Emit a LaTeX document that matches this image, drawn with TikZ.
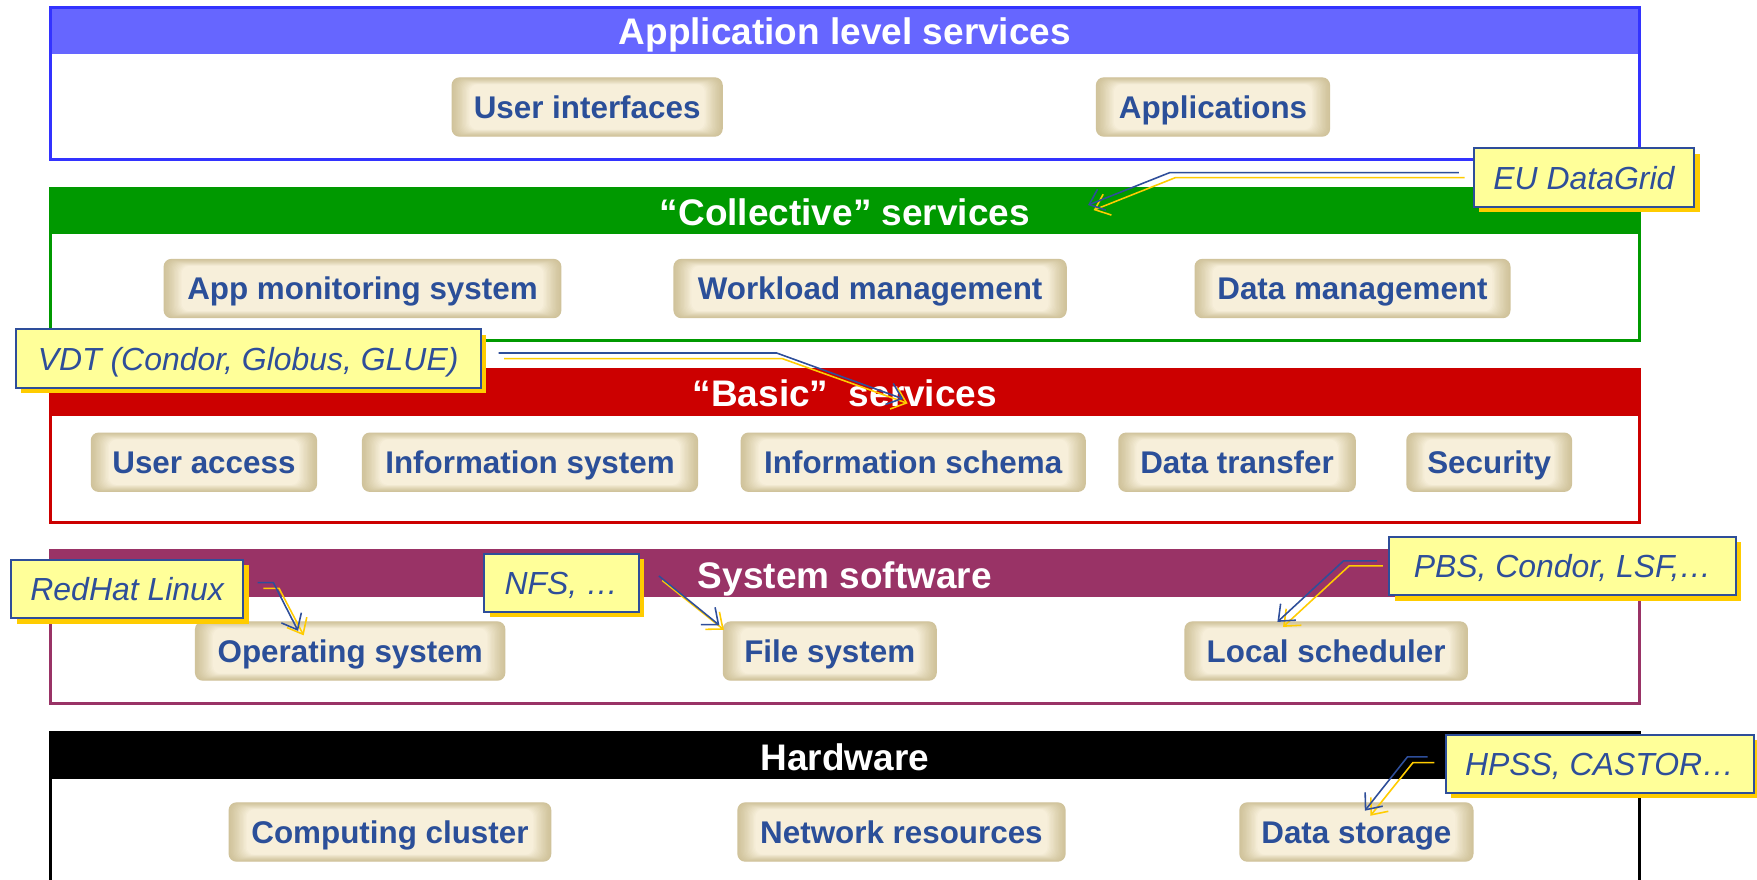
\documentclass[tikz,border=0pt]{standalone}
\usepackage{fontspec}
\setmainfont{Liberation Sans}
\usetikzlibrary{arrows.meta,shadows}
\definecolor{hdrblue}{HTML}{6666FF}
\definecolor{frameblue}{HTML}{3333FF}
\definecolor{layergreen}{HTML}{009900}
\definecolor{layerred}{HTML}{CC0000}
\definecolor{layerplum}{HTML}{993366}
\definecolor{itemblue}{HTML}{2B4F99}
\definecolor{itemmid}{HTML}{F7EFDA}
\definecolor{itemdark}{HTML}{D0C39B}
\definecolor{calloutfill}{HTML}{FFFF99}
\definecolor{calloutblue}{HTML}{2E4E9A}
\definecolor{shadowyellow}{HTML}{FFCC00}
\newcommand\myItemFont{\fontsize{28}{32}\selectfont\bfseries}
\newcommand\myCallFont{\fontsize{28.5}{32}\selectfont\itshape}
\newcommand\myTitleFont{\fontsize{33}{36}\selectfont\bfseries}
\begin{document}
\begin{tikzpicture}[x=1pt,y=-1pt,
  layerframe/.style={line width=2.7pt},
  layertitle/.style={text=white, font=\myTitleFont, inner sep=0pt, text height=23.8pt, text depth=0pt},
  item/.style={rounded corners=7pt, fill=itemdark, minimum height=53pt, inner sep=0pt, text=itemblue, font=\myItemFont, text height=20.2pt, text depth=0pt,
     path picture={
       \foreach \k in {1,...,14} {
         \pgfmathsetmacro\tint{100*(\k/14)^1.2}
         \fill[itemmid!\tint!itemdark, rounded corners=7pt]
           ([xshift=\k*1.15pt, yshift=\k*0.45pt]path picture bounding box.south west)
           rectangle ([xshift=-\k*1.15pt, yshift=-\k*0.45pt]path picture bounding box.north east);
       }
     }},
  callout/.style={draw=calloutblue, line width=1.8pt, fill=calloutfill, text=calloutblue, font=\myCallFont, minimum height=52pt, inner sep=0pt, text height=20.5pt, text depth=0pt,
     drop shadow={shadow xshift=5pt, shadow yshift=-5pt, fill=shadowyellow, opacity=1}},
  bluearrow/.style={draw=calloutblue, line width=1.4pt, -{Straight Barb[length=12pt,width=20pt]}},
  yellowarrow/.style={draw=shadowyellow, line width=1.4pt, -{Straight Barb[length=12pt,width=20pt]}}
]
\useasboundingbox (0,0) rectangle (1568,785);
\fill[white] (0,0) rectangle (1568,785);

% ---------- Layer 1: Application level services
\fill[hdrblue] (45,7) rectangle (1463,48);
\draw[frameblue, layerframe] (45,7) rectangle (1463,142);
\node[layertitle] (t1) at (754,28) {Application level services};
\node[item, minimum width=242pt] (ui) at (524,95.5) {User interfaces};
\node[item, minimum width=209pt] (apps) at (1082.5,95.5) {Applications};

% ---------- Layer 2: Collective services
\fill[layergreen] (45,168) rectangle (1463,209);
\draw[layergreen, layerframe] (45,168) rectangle (1463,304);
\node[layertitle] (t2) at (754,189) {“Collective” services};
\node[item, minimum width=355pt] (appmon) at (323.5,257.5) {App monitoring system};
\node[item, minimum width=351pt] (wlm) at (776.5,257.5) {Workload management};
\node[item, minimum width=282pt] (dm) at (1207,257.5) {Data management};

% ---------- Layer 3: Basic services
\fill[layerred] (45,330) rectangle (1463,371);
\draw[layerred, layerframe] (45,330) rectangle (1463,466);
\node[layertitle] (t3) at (754,351) {“Basic”\ \ services};
\node[item, minimum width=202pt] (ua) at (182,412.5) {User access};
\node[item, minimum width=300pt] (isys) at (473,412.5) {Information system};
\node[item, minimum width=308pt] (isch) at (815,412.5) {Information schema};
\node[item, minimum width=212pt] (dt) at (1104,412.5) {Data transfer};
\node[item, minimum width=148pt] (sec) at (1329,412.5) {Security};

% ---------- Layer 4: System software
\fill[layerplum] (45,491) rectangle (1463,533);
\draw[layerplum, layerframe] (45,491) rectangle (1463,628);
\node[layertitle] (t4) at (754,513) {System software};
\node[item, minimum width=277pt] (os) at (312.5,581) {Operating system};
\node[item, minimum width=191pt] (fs) at (740.5,581) {File system};
\node[item, minimum width=253pt] (ls) at (1183.5,581) {Local scheduler};

% ---------- Layer 5: Hardware
\fill[black] (45,654) rectangle (1463,695);
\draw[black, layerframe] (45,800) -- (45,654) -- (1463,654) -- (1463,800);
\node[layertitle] (t5) at (754,676) {Hardware};
\node[item, minimum width=288pt] (cc) at (348,742.5) {Computing cluster};
\node[item, minimum width=293pt] (nr) at (804.5,742.5) {Network resources};
\node[item, minimum width=209pt] (ds) at (1210.5,742.5) {Data storage};

% ---------- Callouts
\node[callout, minimum width=197pt] (eu) at (1413.5,158.5) {EU DataGrid};
\node[callout, minimum width=415pt] (vdt) at (221.5,320) {VDT (Condor, Globus, GLUE)};
\node[callout, minimum width=207pt] (rh) at (113.5,525.5) {RedHat Linux};
\node[callout, minimum width=138pt] (nfs) at (501,520) {NFS, …};
\node[callout, minimum width=309pt] (pbs) at (1394.5,505) {PBS, Condor, LSF,…};
\node[callout, minimum width=275pt] (hpss) at (1427.5,681.5) {HPSS, CASTOR…};

% ---------- Callout arrows (yellow under, blue over)
\coordinate (euY1) at (1307,158.5); \coordinate (euY2) at (1049,158.5); \coordinate (euYt) at (976,187.5);
\coordinate (euB1) at (1302,154); \coordinate (euB2) at (1044,154); \coordinate (euBt) at (971,183);
\draw[yellowarrow] (euY1) -- (euY2) -- (euYt);
\draw[bluearrow] (euB1) -- (euB2) -- (euBt);

\coordinate (vdtY1) at (450,320); \coordinate (vdtY2) at (698,320); \coordinate (vdtYt) at (810,360);
\coordinate (vdtB1) at (445,315); \coordinate (vdtB2) at (693,315); \coordinate (vdtBt) at (806,356);
\draw[yellowarrow] (vdtY1) -- (vdtY2) -- (vdtYt);
\draw[bluearrow] (vdtB1) -- (vdtB2) -- (vdtBt);

\coordinate (rhY1) at (235,525); \coordinate (rhY2) at (249,525); \coordinate (rhYt) at (271,567);
\coordinate (rhB1) at (230,520); \coordinate (rhB2) at (244,520); \coordinate (rhBt) at (266,563);
\draw[yellowarrow] (rhY1) -- (rhY2) -- (rhYt);
\draw[bluearrow] (rhB1) -- (rhB2) -- (rhBt);

\coordinate (nfsY1) at (591,518); \coordinate (nfsYt) at (646,562);
\coordinate (nfsB1) at (588,514); \coordinate (nfsBt) at (642,558);
\draw[yellowarrow] (nfsY1) -- (nfsYt);
\draw[bluearrow] (nfsB1) -- (nfsBt);

\coordinate (pbsY1) at (1234,505); \coordinate (pbsY2) at (1204,505); \coordinate (pbsYt) at (1145,559.5);
\coordinate (pbsB1) at (1229,500.5); \coordinate (pbsB2) at (1199,500.5); \coordinate (pbsBt) at (1140,555);
\draw[yellowarrow] (pbsY1) -- (pbsY2) -- (pbsYt);
\draw[bluearrow] (pbsB1) -- (pbsB2) -- (pbsBt);

\coordinate (hpY1) at (1280,680.5); \coordinate (hpY2) at (1261,680.5); \coordinate (hpYt) at (1223,728);
\coordinate (hpB1) at (1274,675.5); \coordinate (hpB2) at (1256,675.5); \coordinate (hpBt) at (1218,723.5);
\draw[yellowarrow] (hpY1) -- (hpY2) -- (hpYt);
\draw[bluearrow] (hpB1) -- (hpB2) -- (hpBt);
\end{tikzpicture}
\end{document}
